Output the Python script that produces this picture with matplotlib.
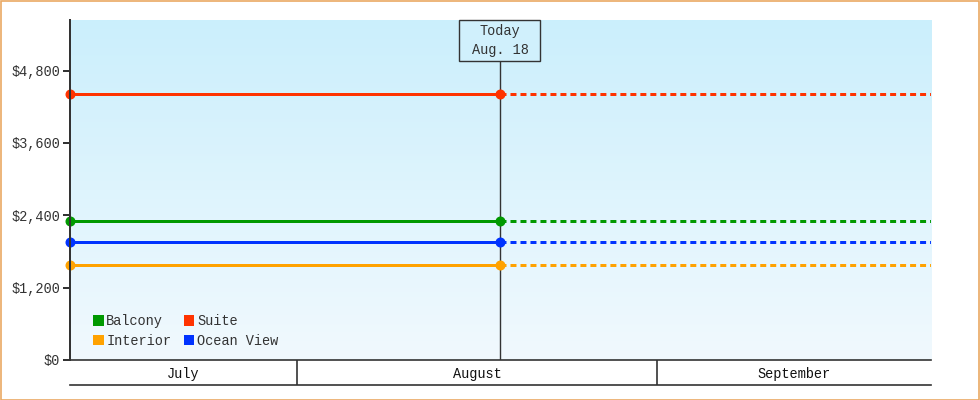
import numpy as np
import matplotlib
matplotlib.use("Agg")
import matplotlib.pyplot as plt
from matplotlib.patches import Rectangle
from matplotlib.colors import LinearSegmentedColormap
from matplotlib.transforms import blended_transform_factory

# ---- data ----
series_names = ["Balcony", "Interior", "Suite", "Ocean View"]
series_values = [2310, 1580, 4420, 1960]
series_colors = ["#009900", "#ffa200", "#ff3300", "#0033ff"]
y_ticks = [0, 1200, 2400, 3600, 4800]
y_tick_labels = ["$0", "$1,200", "$2,400", "$3,600", "$4,800"]
months = ["July", "August", "September"]
month_starts = [0, 31, 62]          # day index, July 1 = 0
x_start, x_end = 11.45, 85.6        # visible range (days)
today_x = 48.48                      # Aug. 18
today_label = "Today\nAug. 18"
y_max = 5640

FONT = ["Liberation Mono", "DejaVu Sans Mono"]
FS = 9.8
DARK = "#333333"

fig = plt.figure(figsize=(9.8, 4.0), dpi=100)
W, H = 980, 400
ax = fig.add_axes([70 / W, 40 / H, 861 / W, 340 / H])
ax.set_xlim(x_start, x_end)
ax.set_ylim(0, y_max)

# gradient background (top darker)
grad = np.linspace(0, 1, 256).reshape(-1, 1)
cmap = LinearSegmentedColormap.from_list("bg", ["#cbeffc", "#f1f9fe"])
ax.imshow(grad, aspect="auto", cmap=cmap, extent=[0, 1, 0, 1],
          origin="upper", transform=ax.transAxes, zorder=0)

# today line
ax.axvline(today_x, color=DARK, lw=1, zorder=2)

# series
lw = 3 * 72 / 100
for name, v, c in zip(series_names, series_values, series_colors):
    ax.plot([x_start, today_x], [v, v], color=c, lw=lw, zorder=3,
            solid_capstyle="butt")
    ax.plot([today_x, x_end], [v, v], color=c, lw=lw, zorder=3,
            dashes=(2, 1.33), dash_capstyle="butt")
    ax.plot([x_start, today_x], [v, v], ls="none", marker="o", ms=6.2,
            color=c, zorder=4, clip_on=False)

# today box
px_per_day = 861 / (x_end - x_start)
bw = 81 / px_per_day
bh = 41 / 340
tr = blended_transform_factory(ax.transData, ax.transAxes)
ax.add_patch(Rectangle((today_x - bw / 2, 1 - bh), bw, bh, transform=tr,
                       fc="#d0f0fc", ec=DARK, lw=1, zorder=6, clip_on=False))
ax.text(today_x, 1 - bh / 2, today_label, transform=tr, ha="center",
        va="center", fontsize=FS, family=FONT, color=DARK, linespacing=1.5,
        zorder=7)

# axes styling
for s in ["top", "right", "bottom"]:
    ax.spines[s].set_visible(False)
ax.spines["left"].set_color(DARK)
ax.spines["left"].set_linewidth(2 * 72 / 100)
ax.spines["left"].set_zorder(5)
ax.set_xticks([])
ax.set_yticks(y_ticks)
ax.set_yticklabels(y_tick_labels, family=FONT, fontsize=FS, color=DARK)
ax.tick_params(axis="y", length=5, width=2 * 72 / 100, color=DARK, pad=2)

# legend
handles = [Rectangle((0, 0), 1, 1, fc=c, ec="none") for c in series_colors]
leg = ax.legend(handles, series_names, ncol=2, loc="lower left",
                bbox_to_anchor=(0.02, 0.02), frameon=False,
                prop=dict(family=FONT, size=FS), handlelength=0.8,
                handleheight=0.8, handletextpad=0.2, columnspacing=0.9,
                labelspacing=0.42, borderaxespad=0)
for t in leg.get_texts():
    t.set_color(DARK)

# month band
bx = fig.add_axes([70 / W, 15 / H, 861 / W, 25 / H])
bx.set_xlim(x_start, x_end)
bx.set_ylim(0, 1)
bx.axis("off")
bx.axhline(1, color=DARK, lw=1.2, clip_on=False)
bx.axhline(0, color=DARK, lw=1.2, clip_on=False)
edges = [x_start] + month_starts[1:] + [x_end]
for m in month_starts[1:]:
    bx.axvline(m, color=DARK, lw=1.2)
for i, name in enumerate(months):
    bx.text((edges[i] + edges[i + 1]) / 2, 0.45, name, ha="center", va="center",
            family=FONT, fontsize=FS, color="#111111")

# outer border
fig.patches.append(Rectangle((0.5 / W, 0.5 / H), (W - 1.5) / W, (H - 1.5) / H,
                             transform=fig.transFigure, fill=False,
                             ec="#eaa963", lw=1.2))

fig.savefig("out.png", dpi=100)
